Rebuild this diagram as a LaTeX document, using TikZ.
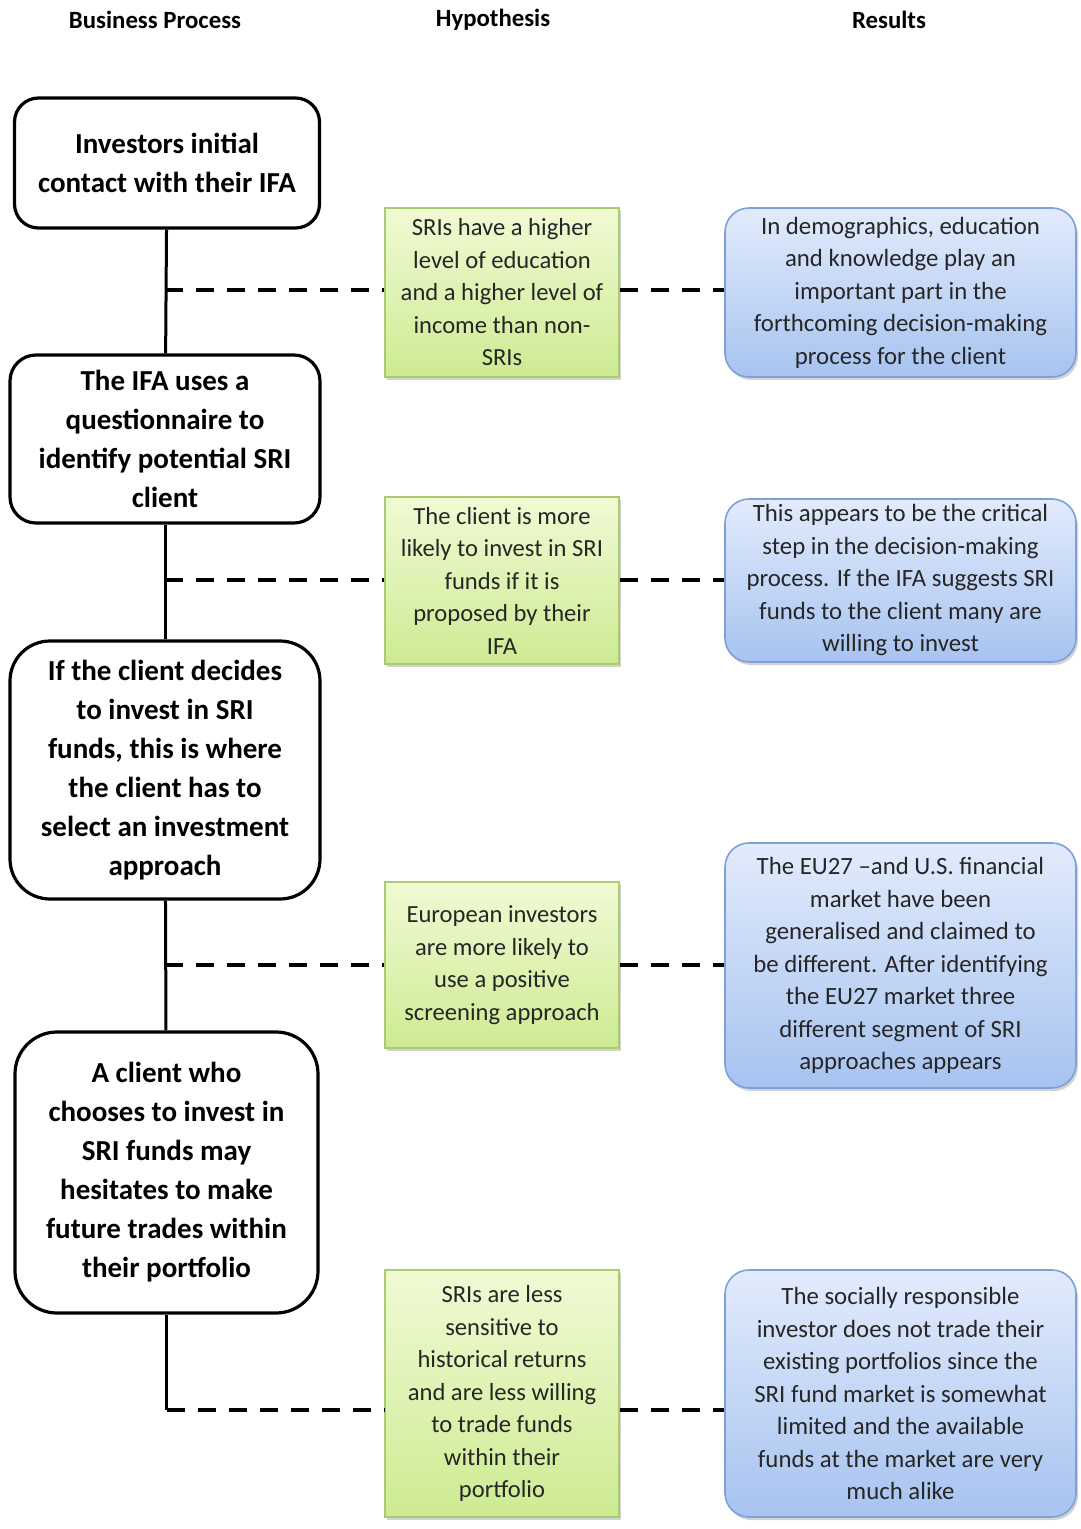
\documentclass[tikz,border=0pt]{standalone}
\usepackage{fontspec}
\setmainfont{Carlito}
\usepackage{tikz}
\usetikzlibrary{shadows}
\definecolor{gtop}{HTML}{F0FAD4}
\definecolor{gbot}{HTML}{CDEB92}
\definecolor{gline}{HTML}{A9CC72}
\definecolor{btop}{HTML}{E2EBFC}
\definecolor{bbot}{HTML}{A7C3F0}
\definecolor{bline}{HTML}{7F9FD8}
\definecolor{txt}{HTML}{262626}

\begin{document}
\begin{tikzpicture}[
                x=0.5pt, y=-0.5pt,
                hd/.style = {font=\fontsize{12.4}{14}\selectfont\bfseries},
                P/.style = {draw, line width=1.6pt, fill=white, align=center, inner sep=0pt,
                            font=\fontsize{14.5}{19.5}\selectfont\bfseries},
                H/.style = {draw=gline, line width=0.6pt, top color=gtop, bottom color=gbot,
                            minimum width=117pt, align=center, inner sep=0pt, text=txt,
                            font=\fontsize{12.3}{16.25}\selectfont,
                            drop shadow={shadow xshift=1pt, shadow yshift=-1.5pt, opacity=0.35}},
                R/.style = {draw=bline, line width=0.8pt, top color=btop, bottom color=bbot,
                            rounded corners=12pt, minimum width=175.5pt, align=center,
                            inner sep=0pt, text=txt, font=\fontsize{12.4}{16.25}\selectfont,
                            drop shadow={shadow xshift=1pt, shadow yshift=-1.5pt, opacity=0.35}},
                vl/.style = {line width=1.5pt},
                dl/.style = {line width=2pt, dash pattern=on 9pt off 6.5pt}
                    ]
                \useasboundingbox (0,0) rectangle (1080,1529);
                % column titles
                \node[hd] (t1) at (155,20) {Business Process};
                \node[hd] (t2) at (493,20) {Hypothesis};
                \node[hd] (t3) at (889,20) {Results};
                % junctions on the process line
                \coordinate (j1) at (165,290);
                \coordinate (j2) at (165,580);
                \coordinate (j3) at (165,965);
                \coordinate (j4) at (166.5,1410);
                % business process
                \node[P, rounded corners=12pt, minimum width=152.5pt, minimum height=65pt] (p1) at (167,163)
                    {Investors initial\\contact with their IFA};
                \node[P, rounded corners=13pt, minimum width=155pt, minimum height=84pt] (p2) at (165,439)
                    {The IFA uses a\\questionnaire to\\identify potential SRI\\client};
                \node[P, rounded corners=20pt, minimum width=155pt, minimum height=129pt] (p3) at (165,770)
                    {If the client decides\\to invest in SRI\\funds, this is where\\the client has to\\select an investment\\approach};
                \node[P, rounded corners=21pt, minimum width=151.5pt, minimum height=140.5pt] (p4) at (166.5,1172.5)
                    {A client who\\chooses to invest in\\SRI funds may\\hesitates to make\\future trades within\\their portfolio};
                \draw[vl] (p1) -- (p2);
                \draw[vl] (p2) -- (p3);
                \draw[vl] (p3) -- (p4);
                \draw[vl] (p4.south) -- (j4);
                % hypotheses
                \node[H, minimum height=84.5pt] (h1) at (502,292.5)
                    {SRIs have a higher\\level of education\\and a higher level of\\income than non-\\SRIs};
                \node[H, minimum height=83.5pt] (h2) at (502,580.5)
                    {The client is more\\likely to invest in SRI\\funds if it is\\proposed by their\\IFA};
                \node[H, minimum height=83pt] (h3) at (502,965)
                    {European investors\\are more likely to\\use a positive\\screening approach};
                \node[H, minimum height=123.5pt] (h4) at (502,1393.5)
                    {SRIs are less\\sensitive to\\historical returns\\and are less willing\\to trade funds\\within their\\portfolio};
                % results
                \node[R, minimum height=84.5pt] (r1) at (900.5,292.5)
                    {In demographics, education\\and knowledge play an\\important part in the\\forthcoming decision-making\\process for the client};
                \node[R, minimum height=81.5pt] (r2) at (900.5,580.5)
                    {This appears to be the critical\\step in the decision-making\\process. If the IFA suggests SRI\\funds to the client many are\\willing to invest};
                \node[R, minimum height=122.5pt] (r3) at (900.5,965.5)
                    {The EU27 --and U.S. financial\\market have been\\generalised and claimed to\\be different. After identifying\\the EU27 market three\\different segment of SRI\\approaches appears};
                \node[R, minimum height=123.5pt] (r4) at (900.5,1393.5)
                    {The socially responsible\\investor does not trade their\\existing portfolios since the\\SRI fund market is somewhat\\limited and the available\\funds at the market are very\\much alike};
                % dashed links
                \draw[dl] (j1) -- (j1 -| h1.west);
                \draw[dl] (j1 -| h1.east) -- (j1 -| r1.west);
                \draw[dl] (j2) -- (j2 -| h2.west);
                \draw[dl] (j2 -| h2.east) -- (j2 -| r2.west);
                \draw[dl] (j3) -- (j3 -| h3.west);
                \draw[dl] (j3 -| h3.east) -- (j3 -| r3.west);
                \draw[dl] (j4) -- (j4 -| h4.west);
                \draw[dl] (j4 -| h4.east) -- (j4 -| r4.west);
            \end{tikzpicture}
\end{document}
